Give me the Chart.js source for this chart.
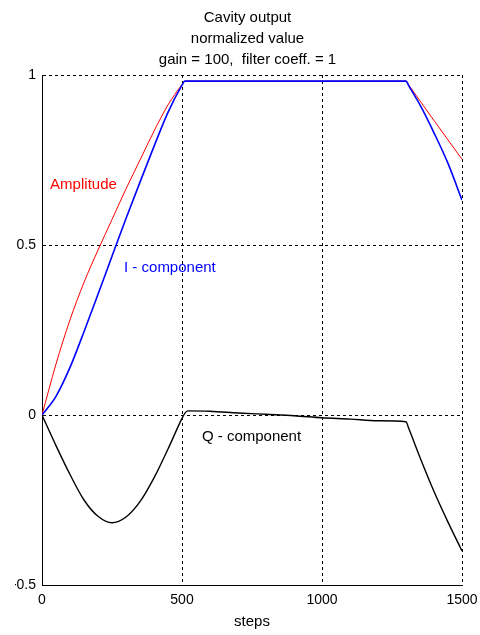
<!DOCTYPE html>
<html>
<head>
<meta charset="utf-8">
<title>Cavity output</title>
<script src="https://cdn.jsdelivr.net/npm/chart.js@4.4.1/dist/chart.umd.min.js"></script>
<style>
body { margin: 0; background: #fff; }
</style>
</head>
<body>
<canvas id="Cavidad" width="480" height="635"></canvas>
<script>
// datos
const pasos    = [0, 50, 100, 150, 200, 250, 300, 350, 400, 450, 500, 510, 520, 600, 700, 800, 900, 1000, 1100, 1200, 1300, 1310, 1350, 1400, 1450, 1500];
const amplitud = [0, 0.15, 0.28, 0.39, 0.485, 0.575, 0.665, 0.75, 0.835, 0.912, 0.972, 0.982, 0.982, 0.982, 0.982, 0.982, 0.982, 0.982, 0.982, 0.982, 0.982, 0.970, 0.924, 0.866, 0.809, 0.752];
const compI    = [0, 0.055, 0.14, 0.245, 0.355, 0.467, 0.578, 0.685, 0.79, 0.89, 0.97, 0.982, 0.982, 0.982, 0.982, 0.982, 0.982, 0.982, 0.982, 0.982, 0.982, 0.968, 0.912, 0.83, 0.74, 0.632];
const compQ    = [0, -0.09, -0.175, -0.25, -0.298, -0.317, -0.30, -0.255, -0.185, -0.10, -0.01, 0.005, 0.012, 0.011, 0.006, 0.002, -0.002, -0.008, -0.012, -0.017, -0.02, -0.04, -0.125, -0.225, -0.315, -0.40];
const ticksX = [0, 500, 1000, 1500];
const ticksY = [-0.5, 0, 0.5, 1];
const titulo = ['Cavity output', 'normalized value', 'gain = 100,  filter coeff. = 1'];

const fuente = '"Liberation Sans", Arial, sans-serif';

// textos junto a las curvas (en coordenadas de los datos)
const etiquetas = [
  {texto: 'Amplitude', x: 29, y: 0.676, color: '#ff0000'},
  {texto: 'I - component', x: 293, y: 0.432, color: '#0000ff'},
  {texto: 'Q - component', x: 571, y: -0.065, color: '#000000'}
];

function puntos(valores) {
  return pasos.map((p, i) => ({x: p, y: valores[i]}));
}

const rotulos = {
  id: 'rotulos',
  afterDatasetsDraw(chart) {
    const ctx = chart.ctx;
    const sx = chart.scales.x;
    const sy = chart.scales.y;
    ctx.save();
    ctx.font = '15px ' + fuente;
    ctx.textAlign = 'left';
    ctx.textBaseline = 'middle';
    etiquetas.forEach(e => {
      ctx.fillStyle = e.color;
      ctx.fillText(e.texto, sx.getPixelForValue(e.x), sy.getPixelForValue(e.y));
    });
    ctx.restore();
  }
};

const ctx = document.getElementById('Cavidad').getContext('2d');
const myChart = new Chart(ctx, {
  type: 'line',
  data: {
    datasets: [{
      label: 'I - component',
      data: puntos(compI),
      borderColor: '#0000ff',
      borderWidth: 1.6
    }, {
      label: 'Amplitude',
      data: puntos(amplitud),
      borderColor: '#ff0000',
      borderWidth: 1
    }, {
      label: 'Q - component',
      data: puntos(compQ),
      borderColor: '#000000',
      borderWidth: 1.4
    }]
  },
  options: {
    responsive: false,
    animation: false,
    layout: { padding: { left: 15, right: 0, top: 0, bottom: 0 } },
    elements: {
      point: { radius: 0 },
      line: { fill: false, cubicInterpolationMode: 'monotone' }
    },
    plugins: {
      legend: { display: false },
      tooltip: { enabled: false },
      title: {
        display: true,
        text: titulo,
        color: '#000',
        font: { family: fuente, size: 15, weight: 'normal', lineHeight: 1.4 },
        padding: { top: 7, bottom: 5 }
      }
    },
    scales: {
      x: {
        type: 'linear',
        min: 0,
        max: 1500,
        afterBuildTicks: s => { s.ticks = ticksX.map(v => ({value: v})); },
        afterFit: s => { s.height = 50; s.paddingRight = 18; },
        ticks: {
          color: '#000',
          font: { family: fuente, size: 14 },
          padding: 7,
          maxRotation: 0,
          autoSkip: false,
          callback: v => String(v)
        },
        grid: { color: '#000', drawTicks: false },
        border: { color: '#000', width: 1, dash: [3, 3] },
        title: {
          display: true,
          text: 'steps',
          color: '#000',
          font: { family: fuente, size: 15 },
          padding: { top: 0, bottom: 4 }
        }
      },
      y: {
        min: -0.5,
        max: 1,
        afterBuildTicks: s => { s.ticks = ticksY.map(v => ({value: v})); },
        afterFit: s => { s.width = 27; },
        ticks: {
          color: '#000',
          font: { family: fuente, size: 14 },
          padding: 6,
          callback: v => String(v)
        },
        grid: { color: '#000', drawTicks: false },
        border: { color: '#000', width: 1, dash: [3, 3] }
      }
    }
  },
  plugins: [rotulos]
});
</script>
</body>
</html>
